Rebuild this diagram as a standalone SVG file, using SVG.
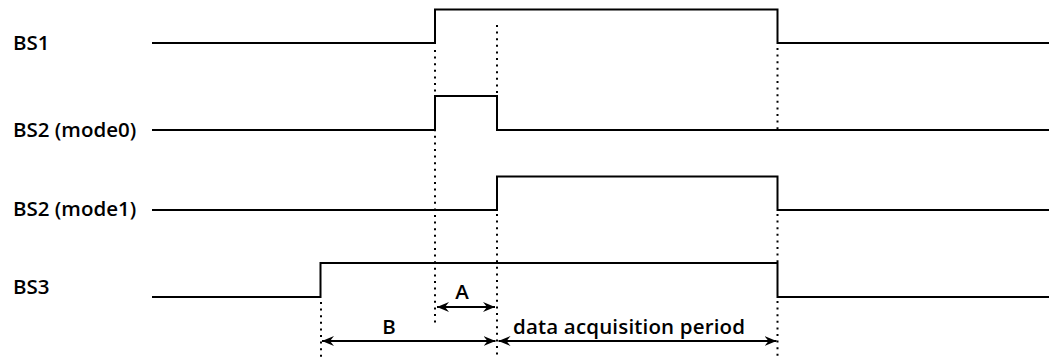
<svg xmlns="http://www.w3.org/2000/svg" width="1049" height="359" viewBox="0 0 1049 359">
<style>
.sig{fill:none;stroke:#000;stroke-width:2;stroke-linejoin:miter}
.dot{fill:none;stroke:#000;stroke-width:2;stroke-dasharray:2 4.6}
.dim{fill:none;stroke:#000;stroke-width:2}
.lbl{font-family:"Open Sans","Noto Sans","Liberation Sans",sans-serif;font-weight:600;font-size:20.5px;fill:#000}
</style>
<defs>
<marker id="ah" viewBox="0 0 12 10" refX="12" refY="5" markerWidth="12" markerHeight="10" markerUnits="userSpaceOnUse" orient="auto-start-reverse">
<path d="M12,5 L0,0 L4,5 L0,10 Z" fill="#000"/>
</marker>
</defs>
<rect width="1049" height="359" fill="#fff"/>
<g id="connectors">
<line class="dot" x1="435" y1="50" x2="435" y2="326"/>
<line class="dot" x1="497" y1="25" x2="497" y2="96"/>
<line class="dot" x1="497" y1="214" x2="497" y2="359"/>
<line class="dot" x1="777.5" y1="48" x2="777.5" y2="129"/>
<line class="dot" x1="777.5" y1="214" x2="777.5" y2="262"/>
<line class="dot" x1="777.5" y1="301" x2="777.5" y2="359"/>
<line class="dot" x1="321" y1="302" x2="321" y2="359"/>
<line class="dim" x1="437" y1="307" x2="495" y2="307" marker-start="url(#ah)" marker-end="url(#ah)"/>
<line class="dim" x1="322" y1="341" x2="495.5" y2="341" marker-start="url(#ah)" marker-end="url(#ah)"/>
<line class="dim" x1="498.5" y1="341" x2="776.5" y2="341" marker-start="url(#ah)" marker-end="url(#ah)"/>
</g>
<g id="bs1">
<text class="lbl" x="13" y="50">BS1</text>
<polyline class="sig" points="152,43 435,43 435,9.5 777.5,9.5 777.5,43 1049,43"/>
</g>
<g id="bs2-mode0">
<text class="lbl" x="13" y="137">BS2 (mode0)</text>
<polyline class="sig" points="152,130 435,130 435,96 497,96 497,130 1049,130"/>
</g>
<g id="bs2-mode1">
<text class="lbl" x="13" y="216">BS2 (mode1)</text>
<polyline class="sig" points="152,210 497,210 497,176.5 777.5,176.5 777.5,210 1049,210"/>
</g>
<g id="bs3">
<text class="lbl" x="13" y="294">BS3</text>
<polyline class="sig" points="152,297 320.5,297 320.5,263 777.5,263 777.5,297 1049,297"/>
</g>
<g id="label-a"><text class="lbl" x="462" y="299" text-anchor="middle">A</text></g>
<g id="label-b"><text class="lbl" x="389" y="334" text-anchor="middle">B</text></g>
<g id="label-data"><text class="lbl" x="513" y="334" textLength="232">data acquisition period</text></g>
</svg>
